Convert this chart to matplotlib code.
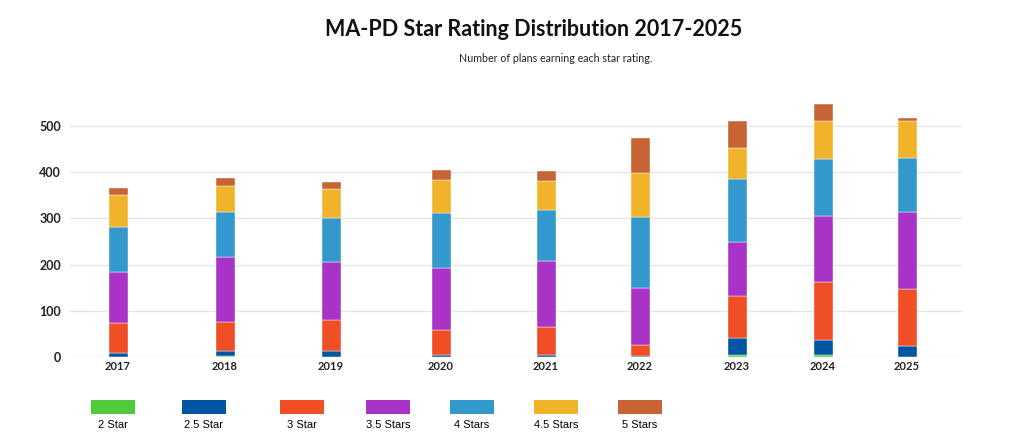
import matplotlib
matplotlib.use('Agg')
import matplotlib.pyplot as plt
from matplotlib.patches import Rectangle

years = ['2017', '2018', '2019', '2020', '2021', '2022', '2023', '2024', '2025']
series = ['2 Star', '2.5 Star', '3 Star', '3.5 Stars', '4 Stars', '4.5 Stars', '5 Stars']

star_2 = [0, 2, 0, 1, 0, 0, 4, 4, 0]
star_25 = [9, 12, 14, 4, 4, 3, 38, 33, 24]
star_3 = [66, 62, 67, 55, 61, 24, 90, 126, 123]
star_35 = [109, 140, 125, 132, 142, 123, 117, 142, 167]
star_4 = [97, 97, 94, 119, 111, 153, 136, 123, 116]
star_45 = [69, 58, 64, 72, 63, 96, 68, 82, 80]
star_5 = [15, 16, 14, 21, 21, 74, 57, 38, 7]

colors = ['#52c93a', '#0055a5', '#f04e24', '#a933c6', '#3399cc', '#f0b32a', '#c86434']

# layout: category centres (pixel-like units), legend item centres
xpos = [118, 225, 331, 441, 546, 640, 737, 823, 907]
leg_x = [113, 204, 302, 388, 472, 556, 640]

fig = plt.figure(figsize=(10.24, 4.43), dpi=100)
ax = fig.add_axes([70/1024, (443-357.3)/443, (962-70)/1024, (357.3-98)/443])

data = [star_2, star_25, star_3, star_35, star_4, star_45, star_5]
bottom = [0]*len(years)
for vals, c in zip(data, colors):
    ax.bar(xpos, vals, width=19, bottom=bottom, color=c, edgecolor='white', linewidth=0.3, zorder=3)
    bottom = [b + v for b, v in zip(bottom, vals)]

ax.set_xlim(70, 962)
ax.set_ylim(0, 560)
ax.set_yticks([0, 100, 200, 300, 400, 500])
ax.set_xticks(xpos)
ax.set_xticklabels(years, fontfamily='Lato', fontweight='bold', fontsize=8, color='#222222')
for lab in ax.get_yticklabels():
    lab.set_fontfamily('Lato')
    lab.set_fontweight('bold')
    lab.set_fontsize(9)
    lab.set_color('#222222')
ax.tick_params(axis='both', length=0)
ax.tick_params(axis='y', pad=6.5)
ax.tick_params(axis='x', pad=3)
ax.grid(axis='y', color='#e6e6e6', linewidth=1, zorder=0)
for s in ax.spines.values():
    s.set_visible(False)

fig.text(534/1024, 1 - 30/443, 'MA-PD Star Rating Distribution 2017-2025', ha='center', va='center',
         fontfamily='Lato', fontweight='bold', fontsize=15.5, color='#111111')
fig.text(556/1024, 1 - 58/443, 'Number of plans earning each star rating.', ha='center', va='center',
         fontfamily='Lato', fontsize=7.7, color='#222222')

for lx, name, c in zip(leg_x, series, colors):
    fig.patches.append(Rectangle(((lx-22)/1024, 1 - 414/443), 44/1024, 14/443,
                                 transform=fig.transFigure, facecolor=c, edgecolor='none'))
    fig.text(lx/1024, 1 - 425/443, name, ha='center', va='center',
             fontfamily='Liberation Sans', fontsize=8, color='#000000')

fig.savefig('out.png', dpi=100)
